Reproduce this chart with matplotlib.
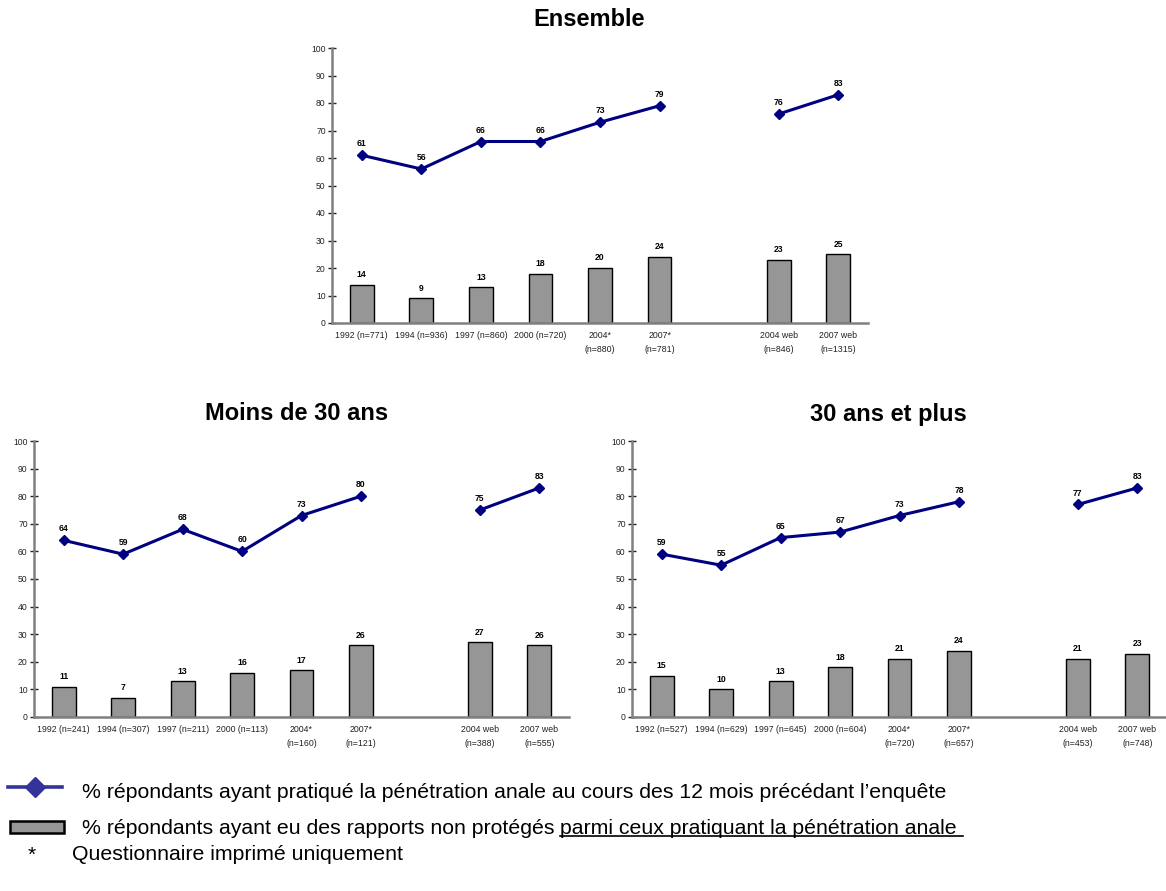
import matplotlib
matplotlib.use("Agg")
import matplotlib.pyplot as plt
from matplotlib.lines import Line2D
from matplotlib.patches import Rectangle

plt.rcParams['font.family'] = ['Liberation Sans', 'DejaVu Sans']

# ---------------- data ----------------
positions = [0, 1, 2, 3, 4, 5, 7, 8]   # one empty slot between printed and web surveys

cats_ens = ["1992 (n=771)", "1994 (n=936)", "1997 (n=860)", "2000 (n=720)",
            "2004*\n(n=880)", "2007*\n(n=781)", "2004 web\n(n=846)", "2007 web\n(n=1315)"]
line_ens = [61, 56, 66, 66, 73, 79, 76, 83]
bars_ens = [14, 9, 13, 18, 20, 24, 23, 25]

cats_m30 = ["1992 (n=241)", "1994 (n=307)", "1997 (n=211)", "2000 (n=113)",
            "2004*\n(n=160)", "2007*\n(n=121)", "2004 web\n(n=388)", "2007 web\n(n=555)"]
line_m30 = [64, 59, 68, 60, 73, 80, 75, 83]
bars_m30 = [11, 7, 13, 16, 17, 26, 27, 26]

cats_p30 = ["1992 (n=527)", "1994 (n=629)", "1997 (n=645)", "2000 (n=604)",
            "2004*\n(n=720)", "2007*\n(n=657)", "2004 web\n(n=453)", "2007 web\n(n=748)"]
line_p30 = [59, 55, 65, 67, 73, 78, 77, 83]
bars_p30 = [15, 10, 13, 18, 21, 24, 21, 23]

titles = ["Ensemble", "Moins de 30 ans", "30 ans et plus"]
yticks = [0, 10, 20, 30, 40, 50, 60, 70, 80, 90, 100]

legend_line = "% répondants ayant pratiqué la pénétration anale au cours des 12 mois précédant l’enquête"
legend_bar_a = "% répondants ayant eu des rapports non protégés "
legend_bar_b = "parmi ceux pratiquant la pénétration anale "
legend_star = "Questionnaire imprimé uniquement"

# ---------------- style ----------------
W, H = 1166, 891
LINE_C = "#000080"
BAR_C = "#969696"
SPINE_C = "#808080"
LEG_FS = 15.3

fig = plt.figure(figsize=(W / 100, H / 100), dpi=100)


def px_axes(left, top, right, bottom):
    return fig.add_axes([left / W, 1 - bottom / H, (right - left) / W, (bottom - top) / H])


def draw_panel(ax, cats, line_vals, bar_vals):
    ax.bar(positions, bar_vals, width=0.4, color=BAR_C, edgecolor="black", linewidth=1.0, zorder=2)
    n_print = 6
    ax.plot(positions[:n_print], line_vals[:n_print], color=LINE_C, lw=2.2,
            marker="D", ms=5.5, zorder=3)
    ax.plot(positions[n_print:], line_vals[n_print:], color=LINE_C, lw=2.2,
            marker="D", ms=5.5, zorder=3)
    for x, v in zip(positions, line_vals):
        ax.annotate(str(v), (x, v), xytext=(0, 5), textcoords="offset points",
                    ha="center", va="bottom", fontsize=6.2, fontweight="bold")
    for x, v in zip(positions, bar_vals):
        ax.annotate(str(v), (x, v), xytext=(0, 4), textcoords="offset points",
                    ha="center", va="bottom", fontsize=6.2, fontweight="bold")
    ax.set_xlim(-0.5, 8.5)
    ax.set_ylim(0, 100)
    ax.set_yticks(yticks)
    ax.set_xticks(positions)
    ax.set_xticklabels(cats, fontsize=6.3, linespacing=1.6)
    ax.tick_params(axis="x", length=0, pad=6, colors="#222222")
    ax.tick_params(axis="y", direction="inout", length=6, width=1, pad=1.5,
                   labelsize=6.2, colors="#222222")
    for s in ("top", "right"):
        ax.spines[s].set_visible(False)
    ax.spines["left"].set_color(SPINE_C)
    ax.spines["left"].set_linewidth(1.8)
    ax.spines["bottom"].set_color(SPINE_C)
    ax.spines["bottom"].set_linewidth(1.8)
    ax.set_facecolor("none")
    return ax


ax1 = px_axes(332, 48, 868, 323)
draw_panel(ax1, cats_ens, line_ens, bars_ens)
ax2 = px_axes(34, 441, 569, 717)
draw_panel(ax2, cats_m30, line_m30, bars_m30)
ax3 = px_axes(632, 441, 1167, 717)
draw_panel(ax3, cats_p30, line_p30, bars_p30)

# titles
fig.text(589 / W, 1 - 20 / H, titles[0], ha="center", va="center", fontsize=17, fontweight="bold")
fig.text(297 / W, 1 - 414 / H, titles[1], ha="center", va="center", fontsize=17, fontweight="bold")
fig.text(888 / W, 1 - 414 / H, titles[2], ha="center", va="center", fontsize=17, fontweight="bold")

# ---------------- legend ----------------
fig.add_artist(Line2D([8 / W, 62 / W], [1 - 787 / H, 1 - 787 / H], color="#333399", lw=2.6,
                      transform=fig.transFigure))
fig.add_artist(Line2D([35 / W], [1 - 787 / H], color="#333399", marker="D", ms=10,
                      transform=fig.transFigure))
fig.text(82 / W, 1 - 792 / H, legend_line, ha="left", va="center", fontsize=LEG_FS)

fig.add_artist(Rectangle((10 / W, 1 - 833 / H), 54 / W, 12 / H, facecolor=BAR_C,
                         edgecolor="black", lw=1.8, transform=fig.transFigure))
t_a = fig.text(82 / W, 1 - 828 / H, legend_bar_a, ha="left", va="center", fontsize=LEG_FS)
fig.canvas.draw()
r = fig.canvas.get_renderer()
bb = t_a.get_window_extent(r)
t_b = fig.text(bb.x1 / W, 1 - 828 / H, legend_bar_b, ha="left", va="center", fontsize=LEG_FS)
bb2 = t_b.get_window_extent(r)
uy = bb2.y0 + 1.5
fig.add_artist(Line2D([bb2.x0 / W, bb2.x1 / W], [uy / H, uy / H], color="black", lw=1.2,
                      transform=fig.transFigure))

fig.text(32 / W, 1 - 855 / H, "*", ha="center", va="center", fontsize=LEG_FS)
fig.text(72 / W, 1 - 855 / H, legend_star, ha="left", va="center", fontsize=LEG_FS)

fig.savefig("out.png", dpi=100)
